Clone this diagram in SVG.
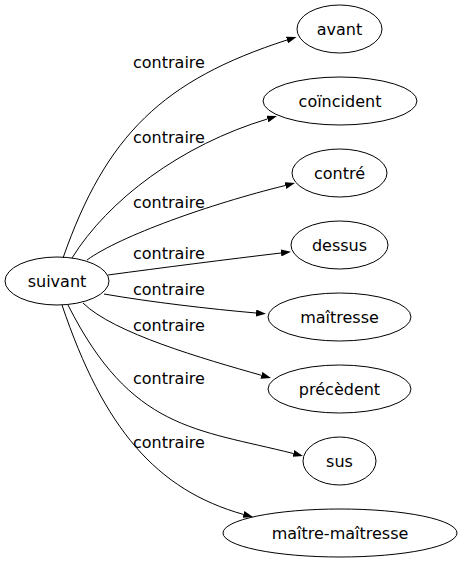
<svg xmlns="http://www.w3.org/2000/svg" width="461" height="563" viewBox="0 0 461 563">
<style>
.n ellipse{fill:none;stroke:#000;stroke-width:1}
text{font-family:"DejaVu Sans",sans-serif;font-size:16px;fill:#000}
.n text{text-anchor:middle}
.e path{fill:none;stroke:#000;stroke-width:1}
</style>
<defs>
<marker id="ah" markerUnits="userSpaceOnUse" viewBox="0 0 10 7" refX="0" refY="3.5" markerWidth="10" markerHeight="7" orient="auto">
<path d="M0,0L10,3.5L0,7z" fill="#000"/>
</marker>
</defs>
<rect width="461" height="563" fill="#fff"/>
<g id="edges" class="e">
<path d="M63,258C106,135 163,80 287,40" marker-end="url(#ah)"/>
<path d="M72,258C108,200 181,145 267.4,119" marker-end="url(#ah)"/>
<path d="M87,260C120,236 210,204 285.3,185.5" marker-end="url(#ah)"/>
<path d="M108,275C160,268 230,259 281,253" marker-end="url(#ah)"/>
<path d="M104,294C150,302 210,309 256,313" marker-end="url(#ah)"/>
<path d="M83,303C113,333 204,359 261.4,375.3" marker-end="url(#ah)"/>
<path d="M68,305C131,430 196,429 293.3,453.5" marker-end="url(#ah)"/>
<path d="M62,305C103.6,428.5 156.5,490 243.4,514.4" marker-end="url(#ah)"/>
<text x="133" y="67.5">contraire</text>
<text x="133" y="142.5">contraire</text>
<text x="133" y="208">contraire</text>
<text x="133" y="258.5">contraire</text>
<text x="133" y="295">contraire</text>
<text x="133" y="331">contraire</text>
<text x="133" y="383.5">contraire</text>
<text x="133" y="448">contraire</text>
</g>
<g id="suivant" class="n"><ellipse cx="57" cy="281" rx="52" ry="24"/><text x="57" y="286.8">suivant</text></g>
<g id="avant" class="n"><ellipse cx="339.5" cy="29" rx="42.5" ry="24"/><text x="339.5" y="34.8">avant</text></g>
<g id="coincident" class="n"><ellipse cx="340" cy="101" rx="77" ry="24"/><text x="340" y="106.8">coïncident</text></g>
<g id="contre" class="n"><ellipse cx="339.5" cy="173" rx="47.5" ry="24"/><text x="339.5" y="178.8">contré</text></g>
<g id="dessus" class="n"><ellipse cx="339.5" cy="245" rx="48.5" ry="24"/><text x="339.5" y="250.8">dessus</text></g>
<g id="maitresse" class="n"><ellipse cx="339.5" cy="317" rx="71.5" ry="24"/><text x="339.5" y="322.8">maîtresse</text></g>
<g id="precedent" class="n"><ellipse cx="339.5" cy="389" rx="71.5" ry="24"/><text x="339.5" y="394.8">précèdent</text></g>
<g id="sus" class="n"><ellipse cx="339.5" cy="461" rx="36.5" ry="24"/><text x="339.5" y="466.8">sus</text></g>
<g id="maitre-maitresse" class="n"><ellipse cx="340" cy="533" rx="117" ry="24"/><text x="340" y="538.8">maître-maîtresse</text></g>
</svg>
